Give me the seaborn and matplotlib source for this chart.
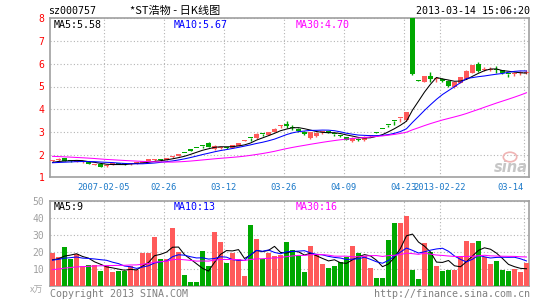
import numpy as np
import pandas as pd
import matplotlib
matplotlib.use("Agg")
import matplotlib.pyplot as plt
from matplotlib.patches import Ellipse
import seaborn as sns

# ---------------- data ----------------
tick_index = [9, 19, 29, 39, 49, 59, 65, 79]
tick_labels = ["2007-02-05", "02-26", "03-12", "03-26", "04-09", "04-23", "2013-02-22", "03-14"]

open_ = [1.70, 1.75, 1.85, 1.73, 1.68, 1.66, 1.66, 1.56, 1.57, 1.48,
         1.56, 1.63, 1.60, 1.58, 1.60, 1.65, 1.74, 1.76, 1.78, 1.78,
         1.88, 1.95, 2.09, 2.19, 2.30, 2.39, 2.52, 2.25, 2.30, 2.30,
         2.30, 2.40, 2.62, 2.74, 2.72, 2.92, 2.87, 3.00, 3.28, 3.35,
         3.22, 3.14, 3.00, 2.72, 2.81, 2.98, 3.04, 2.92, 2.83, 2.78,
         2.60, 2.68, 2.63, 2.84, 2.98, 3.14, 3.30, 3.47, 3.60, 3.52,
         8.05, 5.28, 5.22, 5.47, 5.33, 5.33, 5.26, 4.98, 5.16, 5.34,
         5.60, 5.98, 5.74, 5.74, 5.78, 5.72, 5.56, 5.56, 5.58, 5.58]
high = [1.76, 1.84, 1.87, 1.75, 1.74, 1.71, 1.67, 1.60, 1.58, 1.54,
        1.64, 1.64, 1.61, 1.63, 1.67, 1.71, 1.80, 1.82, 1.80, 1.85,
        1.95, 2.03, 2.09, 2.19, 2.30, 2.39, 2.55, 2.42, 2.32, 2.33,
        2.42, 2.52, 2.64, 2.74, 2.93, 2.92, 3.01, 3.15, 3.30, 3.47,
        3.30, 3.16, 3.02, 3.01, 2.98, 3.00, 3.05, 2.92, 2.86, 2.79,
        2.76, 2.72, 2.80, 2.86, 2.98, 3.14, 3.30, 3.47, 3.62, 3.88,
        8.05, 5.28, 5.48, 5.63, 5.40, 5.36, 5.28, 5.20, 5.42, 5.72,
        5.96, 6.08, 5.88, 5.85, 5.90, 5.74, 5.56, 5.65, 5.68, 5.72]
low = [1.68, 1.73, 1.72, 1.68, 1.66, 1.64, 1.58, 1.54, 1.45, 1.44,
       1.55, 1.58, 1.56, 1.56, 1.59, 1.64, 1.72, 1.72, 1.73, 1.77,
       1.86, 1.94, 2.08, 2.18, 2.29, 2.30, 2.32, 2.20, 2.26, 2.24,
       2.28, 2.38, 2.61, 2.62, 2.70, 2.82, 2.85, 2.98, 3.18, 3.15,
       3.10, 3.00, 2.88, 2.70, 2.78, 2.90, 2.94, 2.84, 2.77, 2.64,
       2.55, 2.62, 2.62, 2.76, 2.97, 3.13, 3.20, 3.30, 3.45, 3.48,
       5.50, 5.26, 5.20, 5.20, 5.22, 5.18, 4.98, 4.95, 5.14, 5.32,
       5.58, 5.66, 5.68, 5.70, 5.60, 5.56, 5.42, 5.48, 5.52, 5.56]
close = [1.74, 1.82, 1.74, 1.70, 1.72, 1.69, 1.60, 1.59, 1.47, 1.53,
         1.62, 1.60, 1.58, 1.60, 1.66, 1.70, 1.76, 1.78, 1.76, 1.84,
         1.93, 2.02, 2.08, 2.18, 2.29, 2.38, 2.35, 2.40, 2.31, 2.28,
         2.41, 2.51, 2.63, 2.72, 2.92, 2.90, 3.00, 3.14, 3.30, 3.28,
         3.18, 3.04, 2.90, 3.00, 2.96, 3.00, 2.96, 2.90, 2.81, 2.66,
         2.75, 2.66, 2.78, 2.86, 2.97, 3.13, 3.29, 3.46, 3.62, 3.86,
         5.57, 5.26, 5.46, 5.35, 5.35, 5.25, 5.02, 5.18, 5.40, 5.70,
         5.95, 5.68, 5.76, 5.76, 5.72, 5.58, 5.54, 5.58, 5.60, 5.66]
volume = [19.4, 17.0, 22.9, 16.0, 19.0, 11.3, 12.0, 12.0, 8.8, 11.3,
          8.2, 8.5, 8.5, 11.5, 9.5, 19.4, 19.4, 28.7, 15.5, 16.0,
          34.0, 20.0, 6.0, 2.3, 2.3, 20.4, 11.7, 32.0, 26.0, 13.6,
          19.4, 15.6, 5.6, 36.0, 27.7, 15.6, 19.4, 17.5, 18.0, 25.8,
          21.0, 17.7, 7.9, 23.3, 18.5, 12.9, 10.4, 11.3, 14.2, 17.1,
          23.3, 19.4, 17.7, 10.4, 4.2, 4.2, 27.3, 37.4, 37.4, 41.2,
          9.4, 3.6, 25.2, 20.0, 11.3, 8.4, 9.4, 9.4, 17.1, 26.4,
          25.2, 26.4, 16.8, 12.9, 14.8, 9.4, 8.8, 10.0, 7.9, 13.6]

# history before the visible window (inferred from where the MA lines start)
prior_close = [2.10, 2.12, 2.08, 2.15, 2.11, 2.06, 2.09, 2.13, 2.10, 2.05,
               2.08, 2.04, 2.06, 2.02, 2.07, 2.05, 2.03, 2.01, 1.98, 1.95,
               1.70, 1.62, 1.58, 1.60, 1.63, 1.61, 1.65, 1.62, 1.66]
prior_volume = [6, 7, 5, 8, 6, 7, 6, 5, 8, 7, 6, 7, 6, 8, 7, 6, 7, 6, 8, 6,
                12, 16, 13, 15, 18, 14, 15, 13, 15]

price_ma_text = ["MA5:5.58", "MA10:5.67", "MA30:4.70"]
vol_ma_text = ["MA5:9", "MA10:13", "MA30:16"]

# ---------------- derived ----------------
n = len(close)
idx = np.arange(n)
up = np.array(close) >= np.array(open_)
direction = np.where(up, "up", "down")
RED, GREEN = "#ff5a5a", "#00a800"
ma_colors = ["#000000", "#0000ff", "#ff00ff"]

cs = pd.Series(prior_close + close)
vs = pd.Series(prior_volume + volume)
k = len(prior_close)
pma = {w: cs.rolling(w, min_periods=1).mean().to_numpy()[k:] for w in (5, 10, 30)}
vma = {w: vs.rolling(w, min_periods=1).mean().to_numpy()[k:] for w in (5, 10, 30)}

df = pd.DataFrame({"i": idx, "open": open_, "high": high, "low": low,
                   "close": close, "volume": volume, "dir": direction})

MONO = "DejaVu Sans Mono"
plt.rcParams["font.family"] = [MONO, "Noto Sans CJK SC"]

W, H = 545, 300
fig = plt.figure(figsize=(W / 100, H / 100), dpi=100)
left, right = 50, 529
ax = fig.add_axes([left / W, 1 - 177.3 / H, (right - left) / W, (177.3 - 18.4) / H])
axv = fig.add_axes([left / W, 1 - 285.5 / H, (right - left) / W, (285.5 - 201.3) / H])

xlim = (-0.42, n - 1 + 0.42)
ticks_x = [t - 0.42 for t in tick_index]
grid_kw = dict(color="#b4b4b4", linestyle=(0, (1, 2)), linewidth=0.8)
LW = 0.75

# ---------------- price panel ----------------
body_lo = np.minimum(df["open"], df["close"])
body_h = np.maximum(np.abs(df["close"] - df["open"]), 0.045)
cols = np.where(up, RED, GREEN)
ax.vlines(idx, df["low"], df["high"], colors=cols, linewidth=1.0, zorder=3)
ax.bar(idx, body_h, bottom=body_lo, width=0.78, color=cols, linewidth=0, zorder=3)
for w, c in zip((5, 10, 30), ma_colors):
    sns.lineplot(x=idx, y=pma[w], color=c, linewidth=LW, ax=ax, zorder=4, estimator=None)

ax.set_xlim(*xlim)
ax.set_ylim(1, 8)
ax.set_yticks(range(1, 9))
ax.set_yticklabels([str(v) for v in range(1, 9)], color="#ff0000", fontsize=7, family=MONO)
ax.set_xticks(ticks_x)
ax.set_xticklabels(tick_labels, color="#1a78c8", fontsize=6.3, family=MONO)
lbls = ax.get_xticklabels()
lbls[-1].set_ha("right")
ax.tick_params(axis="both", length=0)
ax.tick_params(axis="y", pad=4)
ax.tick_params(axis="x", pad=4)
ax.grid(True, **grid_kw)
ax.set_axisbelow(True)
ax.set_xlabel("")
ax.set_ylabel("")

# sina watermark
ax.text((511 - left) / (right - left), (177.3 - 167) / 159, "sina", transform=ax.transAxes,
        ha="center", va="center", fontsize=10.5, fontweight="bold", style="italic",
        color="#c6c6c6", family="DejaVu Sans", zorder=2)
ax.add_patch(Ellipse(((510 - left) / (right - left), (177.3 - 157) / 159), 0.028, 0.06,
                     transform=ax.transAxes, facecolor="none", edgecolor="#f0b4b4",
                     linewidth=1.2, zorder=2))

# ---------------- volume panel ----------------
sns.barplot(data=df, x="i", y="volume", hue="dir", palette={"up": RED, "down": GREEN},
            native_scale=True, dodge=False, width=0.8, saturation=1, linewidth=0,
            legend=False, ax=axv, zorder=3)
for w, c in zip((5, 10, 30), ma_colors):
    sns.lineplot(x=idx, y=vma[w], color=c, linewidth=LW, ax=axv, zorder=4, estimator=None)
axv.set_xlim(*xlim)
axv.set_ylim(0, 50)
axv.set_yticks([10, 20, 30, 40, 50])
axv.set_yticklabels(["10", "20", "30", "40", "50"], color="#a0a0a0", fontsize=7, family=MONO)
axv.set_xticks(ticks_x)
axv.set_xticklabels([""] * len(ticks_x))
axv.tick_params(axis="both", length=0)
axv.tick_params(axis="y", pad=4)
axv.grid(True, **grid_kw)
axv.set_axisbelow(True)
axv.set_xlabel("")
axv.set_ylabel("")

for a in (ax, axv):
    for s in a.spines.values():
        s.set_color("#a0a0a0")
        s.set_linewidth(1.2)

# ---------------- texts ----------------
def ftxt(x, y, s, **kw):
    fig.text(x / W, 1 - y / H, s, **kw)

ftxt(48, 10.5, "sz000757", fontsize=7.2, family=MONO, va="center", color="#000000")
ftxt(175, 10.5, "*ST浩物 - 日K线图", fontsize=8, family=["Noto Sans CJK SC", "DejaVu Sans"],
     va="center", ha="center", color="#000000")
ftxt(530, 11.5, "2013-03-14 15:06:20", fontsize=7.2, family=MONO, va="center", ha="right")

for xpos, s, c in zip((54, 174, 295.5), price_ma_text, ma_colors):
    ftxt(xpos, 24.8, s, fontsize=7.2, family=MONO, va="center", color=c)
for xpos, s, c in zip((54, 174, 295.5), vol_ma_text, ma_colors):
    ftxt(xpos, 207, s, fontsize=7.2, family=MONO, va="center", color=c)

ftxt(36.6, 290.5, "x万", fontsize=6.5, family=["Noto Sans CJK SC", "DejaVu Sans"],
     va="center", ha="center", color="#a8a8a8")
ftxt(50, 294, "Copyright 2013 SINA.COM", fontsize=7.2, family=MONO, va="center", color="#808080")
ftxt(530, 294, "http://finance.sina.com.cn", fontsize=7.2, family=MONO, va="center",
     ha="right", color="#808080")

fig.savefig("out.png", dpi=100, facecolor="white")
